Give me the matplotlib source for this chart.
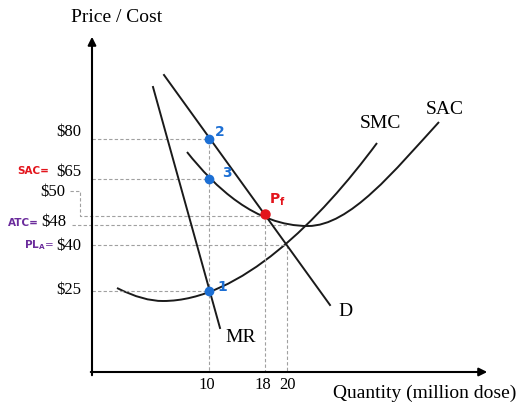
import matplotlib
matplotlib.use('Agg')
import matplotlib.pyplot as plt
from matplotlib.path import Path
from matplotlib.patches import PathPatch

# drawing units are image pixels (x right, y down)
price_labels = ['$80', '$65', '$50', '$48', '$40', '$25']
price_levels = [139, 179, 216, 225, 245, 291]
qty_labels = ['10', '18', '20']
qty_levels = [209, 265, 287]

# straight lines: D and MR
d_x, d_y = [164, 330], [75, 305]
mr_x, mr_y = [153, 220], [87, 328]

# bezier control points
sac_pts = [(187, 152), (215, 187), (255, 226), (308, 226),
           (350, 226), (395, 170), (439, 122)]
smc_pts = [(117, 288), (135, 297), (150, 301), (163, 301),
           (240, 301), (320, 220), (377, 143)]

# marked points
blue_x, blue_y = [209, 209, 209], [139, 179, 291]
blue_tags = ['2', '3', '1']
pf_x, pf_y = 265, 214

serif = 'Liberation Serif'
blue = '#1c6fd4'
red = '#e3141c'
purple = '#6b2c9c'
dash = dict(color='#a0a0a0', lw=0.8, ls=(0, (3, 2)))

fig = plt.figure(figsize=(5.26, 4.03), dpi=100)
ax = fig.add_axes([0, 0, 1, 1])
ax.set_xlim(0, 526)
ax.set_ylim(403, 0)
ax.axis('off')

# axes with arrows
ax.annotate('', xy=(92, 34), xytext=(92, 378),
            arrowprops=dict(arrowstyle='-|>', color='black', lw=1.5, mutation_scale=12))
ax.annotate('', xy=(490, 372), xytext=(88, 372),
            arrowprops=dict(arrowstyle='-|>', color='black', lw=1.5, mutation_scale=12))

# guide lines
ax.plot([92, 209], [139, 139], **dash)
ax.plot([92, 209], [179, 179], **dash)
ax.plot([70, 80, 80, 265], [191, 191, 216, 216], **dash)
ax.plot([72, 287], [225, 225], **dash)
ax.plot([92, 287], [245, 245], **dash)
ax.plot([92, 209], [291, 291], **dash)
ax.plot([209, 209], [139, 372], **dash)
ax.plot([265, 265], [214, 372], **dash)
ax.plot([287, 287], [245, 372], **dash)

# curves
ax.plot(d_x, d_y, color='#1a1a1a', lw=1.4)
ax.plot(mr_x, mr_y, color='#1a1a1a', lw=1.4)
for pts in (sac_pts, smc_pts):
    codes = [Path.MOVETO] + [Path.CURVE4] * (len(pts) - 1)
    ax.add_patch(PathPatch(Path(pts, codes), fill=False, color='#1a1a1a', lw=1.4))

ax.plot(blue_x, blue_y, 'o', color=blue, ms=6, zorder=5)
ax.plot(pf_x, pf_y, 'o', color=red, ms=6.5, zorder=5)
for x, y, t, dx, dy in zip(blue_x, blue_y, blue_tags, [11, 18, 13], [-7, -6, -4]):
    ax.text(x + dx, y + dy, t, color=blue, fontsize=10, fontweight='bold',
            ha='center', va='center')
ax.text(277, 200, r'$\mathbf{P_f}$', color=red, fontsize=10, ha='center', va='center')

# tick labels
label_y = [132, 172, 192, 222, 246, 290]
label_right = [81, 81, 65, 66, 81, 81]
for t, y, xr in zip(price_labels, label_y, label_right):
    ax.text(xr, y, t, fontsize=12, family=serif, ha='right', va='center')
for t, x in zip(qty_labels, [207, 263, 287]):
    ax.text(x, 385, t, fontsize=12, family=serif, ha='center', va='center')

# handwritten notes
ax.text(33, 171, 'SAC=', color=red, fontsize=7.5, fontweight='bold', ha='center', va='center')
ax.text(23, 223, 'ATC=', color=purple, fontsize=7.5, fontweight='bold', ha='center', va='center')
ax.text(39, 245, r'$\mathbf{PL_A}$=', color=purple, fontsize=7.5, ha='center', va='center')

ax.text(117, 18, 'Price / Cost', fontsize=14, family=serif, ha='center', va='center')
ax.text(333, 393, 'Quantity (million dose)', fontsize=14, family=serif, ha='left', va='center')
ax.text(380, 123, 'SMC', fontsize=14, family=serif, ha='center', va='center')
ax.text(445, 110, 'SAC', fontsize=14, family=serif, ha='center', va='center')
ax.text(241, 338, 'MR', fontsize=14, family=serif, ha='center', va='center')
ax.text(345, 312, 'D', fontsize=14, family=serif, ha='center', va='center')

fig.savefig('out.png', dpi=100)
